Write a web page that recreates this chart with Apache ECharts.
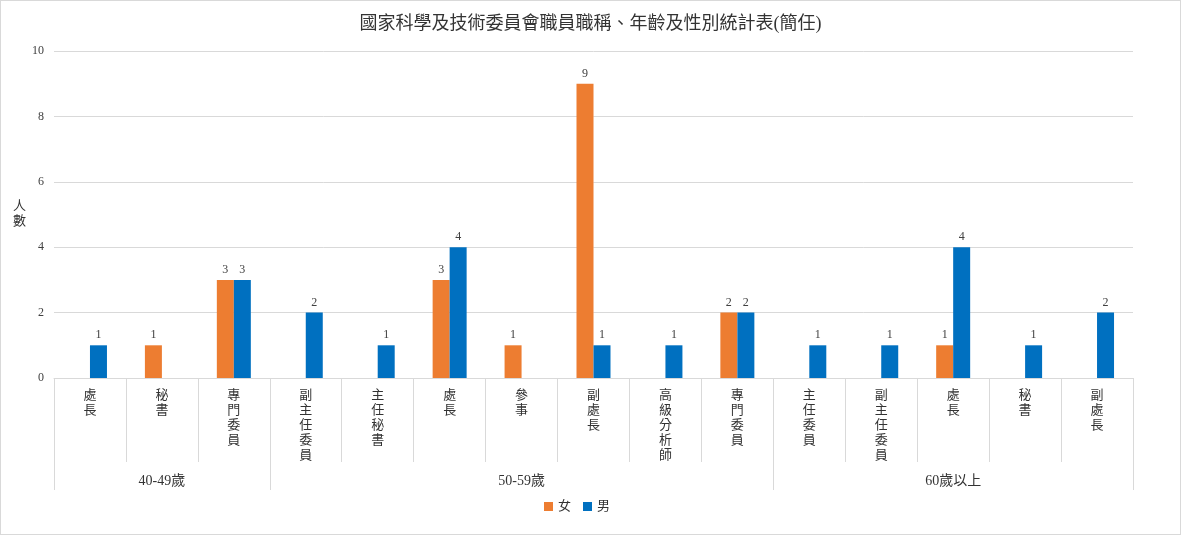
<!DOCTYPE html>
<html lang="zh-TW">
<head>
<meta charset="UTF-8">
<title>國家科學及技術委員會職員職稱、年齡及性別統計表(簡任)</title>
<script src="https://cdn.jsdelivr.net/npm/echarts@6/dist/echarts.min.js"></script>
<style>
  html, body { margin: 0; padding: 0; background: #fff; }
  #chart { width: 1179px; height: 533px; border: 1px solid #d9d9d9; }
</style>
</head>
<body>
<div id="chart"></div>
<script>
    // 職稱（依年齡分組排列）
    const titles = ['處長','秘書','專門委員','副主任委員','主任秘書','處長','參事','副處長','高級分析師','專門委員','主任委員','副主任委員','處長','秘書','副處長'];
    const ageGroups = ['40-49歲','50-59歲','60歲以上'];
    const groupSizes = [3, 7, 5];
    const female = [null, 1, 3, null, null, 3, 1, 9, null, 2, null, null, 1, null, null];
    const male = [1, null, 3, 2, 1, 4, null, 1, 1, 2, 1, 1, 4, 1, 2];
    const yTicks = [0, 2, 4, 6, 8, 10];

    const FONT = "'Liberation Serif', 'Noto Sans CJK TC', serif";

    // 每組的起點和中點（類別索引）
    const groupStarts = [];
    const groupCenters = {};
    let pos = 0;
    groupSizes.forEach((n, i) => {
        groupStarts.push(pos);
        groupCenters[pos + Math.floor(n / 2)] = ageGroups[i];
        pos += n;
    });

    const barLabel = {
        show: true,
        position: 'top',
        distance: 4,
        color: '#404040',
        fontSize: 12,
        fontFamily: FONT
    };

    const option = {
        animation: false,
        textStyle: { fontFamily: FONT },
        title: {
            text: '國家科學及技術委員會職員職稱、年齡及性別統計表(簡任)',
            left: 'center',
            top: 9,
            textStyle: { fontSize: 18, fontWeight: 'normal', color: '#333', fontFamily: FONT }
        },
        legend: {
            bottom: 16,
            left: 538,
            itemWidth: 9,
            itemHeight: 9,
            itemGap: 12,
            icon: 'rect',
            textStyle: { fontSize: 13, color: '#333', fontFamily: FONT },
            data: ['女', '男']
        },
        grid: { left: 53, right: 47, top: 50, bottom: 156 },
        xAxis: [
            {
                type: 'category',
                data: titles,
                axisLine: { lineStyle: { color: '#d9d9d9' } },
                axisTick: { show: true, length: 84, lineStyle: { color: '#d9d9d9' } },
                axisLabel: {
                    interval: 0,
                    margin: 10,
                    fontSize: 13,
                    lineHeight: 15,
                    color: '#333',
                    verticalAlign: 'top',
                    formatter: v => v.split('').join('\n')
                }
            },
            {
                type: 'category',
                position: 'bottom',
                data: titles.map((t, i) => groupCenters[i] || ''),
                axisLine: { show: false },
                axisTick: {
                    show: true,
                    length: 112,
                    lineStyle: { color: '#d9d9d9' },
                    interval: i => groupStarts.indexOf(i) >= 0
                },
                axisLabel: {
                    interval: i => i in groupCenters,
                    margin: 96,
                    fontSize: 14,
                    color: '#333'
                }
            }
        ],
        yAxis: {
            type: 'value',
            min: yTicks[0],
            max: yTicks[yTicks.length - 1],
            interval: 2,
            name: '人\n數',
            nameLocation: 'middle',
            nameRotate: 0,
            nameGap: 27,
            nameTextStyle: { fontSize: 13, color: '#333', lineHeight: 15, fontFamily: FONT },
            axisLine: { show: false },
            axisTick: { show: false },
            axisLabel: { fontSize: 12, color: '#404040', margin: 10 },
            splitLine: { lineStyle: { color: '#d9d9d9' } }
        },
        series: [
            {
                name: '女',
                type: 'bar',
                data: female,
                barWidth: 17,
                barGap: '0%',
                itemStyle: { color: '#ED7D31' },
                label: barLabel
            },
            {
                name: '男',
                type: 'bar',
                data: male,
                barWidth: 17,
                barGap: '0%',
                itemStyle: { color: '#0070C0' },
                label: barLabel
            }
        ]
    };

    const myChart = echarts.init(document.getElementById('chart'));
    myChart.setOption(option);
</script>
</body>
</html>
